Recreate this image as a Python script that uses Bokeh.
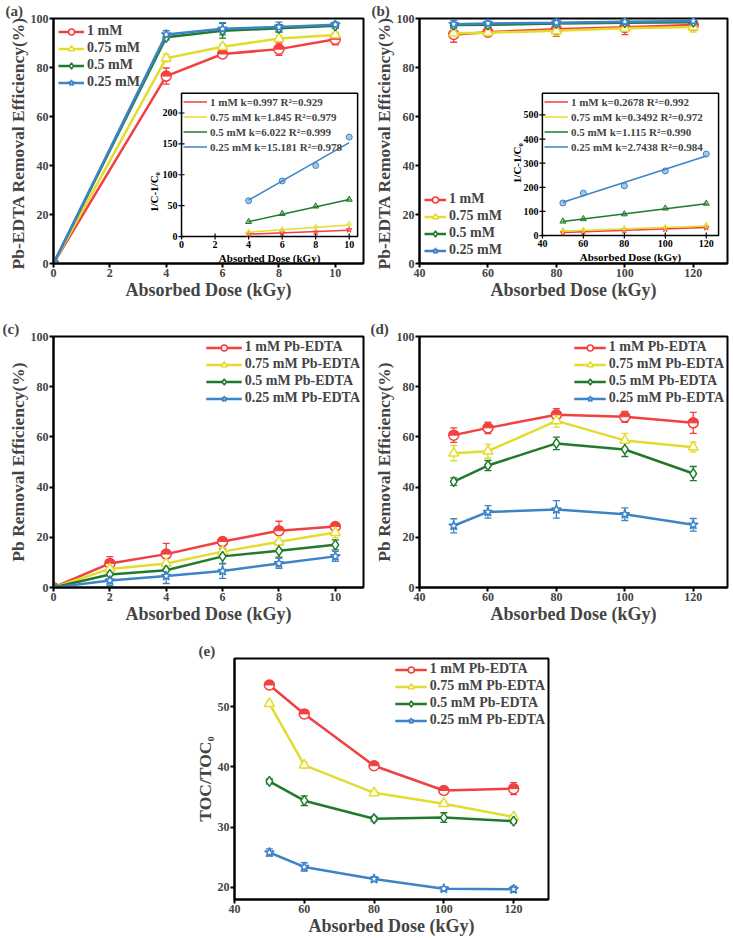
import math
from bokeh.plotting import figure
from bokeh.models import (Range1d, Legend, LegendItem, Title, Whisker, TeeHead,
                          ColumnDataSource, FixedTicker, Spacer)
from bokeh.layouts import column, row
from bokeh.embed import file_html
from bokeh.resources import INLINE
from bokeh.core.properties import value

FONT = "Liberation Serif"
RED, YEL, GRN, BLU = "#F23F3F", "#E3DC2E", "#217A2B", "#3D83C8"
COLORS = [RED, YEL, GRN, BLU]
CONC = ["1 mM", "0.75 mM", "0.5 mM", "0.25 mM"]
CONC_PB = ["1 mM Pb-EDTA", "0.75 mM Pb-EDTA", "0.5 mM Pb-EDTA", "0.25 mM Pb-EDTA"]
MARKERS = ["circle", "triangle", "diamond", "star"]
INSET_MARKERS = ["star", "diamond", "triangle", "circle"]

# ---------------- data: panel (a) ----------------
a_dose = [0, 4, 6, 8, 10]
a_eff_1mM = [0, 76.5, 85.5, 87.5, 91.5]
a_eff_075mM = [0, 83.8, 88.5, 91.8, 93.3]
a_eff_05mM = [0, 92.3, 95.0, 96.0, 97.0]
a_eff_025mM = [0, 93.5, 95.8, 96.5, 97.5]
a_err_1mM = [0.5, 3.3, 1.7, 2.5, 2.3]
a_err_075mM = [0.5, 1.5, 1.0, 1.2, 1.0]
a_err_05mM = [0.5, 1.0, 3.0, 1.5, 1.0]
a_err_025mM = [0.5, 1.5, 2.5, 2.0, 1.0]

a_in_dose = [4, 6, 8, 10]
a_in_1mM = [4, 6, 7, 11]
a_in_075mM = [7, 11, 15, 20]
a_in_05mM = [24, 37, 49, 60]
a_in_025mM = [58, 90, 115, 161]
a_fit_dose = [4, 10]
a_fit_1mM = [4, 10]
a_fit_075mM = [7, 18.5]
a_fit_05mM = [24, 60]
a_fit_025mM = [59, 152]
a_fit_labels = ["1 mM k=0.997 R²=0.929", "0.75 mM k=1.845 R²=0.979",
                "0.5 mM k=6.022 R²=0.999", "0.25 mM k=15.181 R²=0.978"]

# ---------------- data: panel (b) ----------------
b_dose = [50, 60, 80, 100, 120]
b_eff_1mM = [93.5, 94.4, 95.6, 96.4, 97.3]
b_eff_075mM = [94.0, 94.2, 95.0, 96.0, 96.5]
b_eff_05mM = [97.3, 97.4, 98.0, 98.3, 98.5]
b_eff_025mM = [97.7, 98.0, 98.3, 98.7, 99.0]
b_err_1mM = [3.2, 1.5, 2.9, 3.0, 2.0]
b_err_075mM = [2.0, 1.0, 2.0, 1.5, 2.0]
b_err_05mM = [1.0, 1.0, 1.0, 1.0, 1.0]
b_err_025mM = [1.5, 1.5, 1.5, 1.5, 1.5]

b_in_1mM = [12, 15, 21, 26, 33]
b_in_075mM = [21, 23, 29, 34, 43]
b_in_05mM = [59, 69, 89, 113, 133]
b_in_025mM = [135, 176, 206, 268, 338]
b_fit_dose = [50, 120]
b_fit_1mM = [13, 33]
b_fit_075mM = [19, 40]
b_fit_05mM = [58, 132]
b_fit_025mM = [138, 330]
b_fit_labels = ["1 mM k=0.2678 R²=0.992", "0.75 mM k=0.3492 R²=0.972",
                "0.5 mM k=1.115 R²=0.990", "0.25 mM k=2.7438 R²=0.984"]

# ---------------- data: panel (c) ----------------
c_dose = [0, 2, 4, 6, 8, 10]
c_eff_1mM = [0, 9.6, 13.3, 18.3, 22.6, 24.3]
c_eff_075mM = [0, 7.4, 9.6, 14.3, 18.2, 21.9]
c_eff_05mM = [0, 5.2, 6.9, 12.4, 14.6, 17.0]
c_eff_025mM = [0, 2.8, 4.6, 6.6, 9.6, 12.4]
c_err_1mM = [0.5, 2.7, 4.3, 1.2, 3.8, 1.0]
c_err_075mM = [0.5, 1.5, 2.0, 1.5, 2.5, 2.0]
c_err_05mM = [0.5, 2.0, 2.5, 3.0, 2.5, 2.0]
c_err_025mM = [0.5, 2.0, 3.0, 3.0, 2.0, 2.0]

# ---------------- data: panel (d) ----------------
d_dose = [50, 60, 80, 100, 120]
d_eff_1mM = [60.7, 63.6, 68.8, 68.0, 65.6]
d_eff_075mM = [53.5, 54.3, 66.4, 58.6, 55.9]
d_eff_05mM = [42.2, 48.6, 57.4, 55.0, 45.4]
d_eff_025mM = [24.6, 30.1, 31.1, 29.2, 25.0]
d_err_1mM = [2.9, 2.3, 2.5, 2.2, 4.2]
d_err_075mM = [3.0, 2.8, 2.5, 2.8, 2.0]
d_err_05mM = [1.5, 2.0, 2.5, 2.8, 2.8]
d_err_025mM = [2.8, 2.5, 3.5, 2.5, 2.5]

# ---------------- data: panel (e) ----------------
e_dose = [50, 60, 80, 100, 120]
e_toc_1mM = [53.6, 48.8, 40.2, 36.1, 36.4]
e_toc_075mM = [50.5, 40.3, 35.7, 33.9, 31.7]
e_toc_05mM = [37.6, 34.4, 31.4, 31.6, 31.0]
e_toc_025mM = [25.8, 23.4, 21.4, 19.8, 19.7]
e_err_1mM = [0.6, 0.6, 0.4, 0.4, 1.0]
e_err_075mM = [0.4, 0.5, 0.4, 0.4, 0.4]
e_err_05mM = [0.4, 0.8, 0.4, 0.8, 0.3]
e_err_025mM = [0.6, 0.7, 0.4, 0.3, 0.5]

X_LABEL = "Absorbed Dose (kGy)"


def make_fig(w, h, bl, br, bt, bb, xr, yr, xt, yt, ylabel):
    p = figure(width=w, height=h, x_range=Range1d(*xr), y_range=Range1d(*yr),
               output_backend="svg", toolbar_location=None, title=None,
               min_border_left=bl, min_border_right=br,
               min_border_top=bt, min_border_bottom=bb)
    p.outline_line_color = "black"
    p.outline_line_width = 2
    p.grid.visible = False
    p.xaxis.ticker = FixedTicker(ticks=xt)
    p.yaxis.ticker = FixedTicker(ticks=yt)
    for ax in (p.xaxis[0], p.yaxis[0]):
        ax.axis_line_width = 2
        ax.major_tick_line_width = 2
        ax.major_tick_out = 4
        ax.major_tick_in = 0
        ax.minor_tick_out = 0
        ax.minor_tick_in = 0
        ax.major_label_text_font = FONT
        ax.major_label_text_font_style = "bold"
        ax.major_label_text_font_size = "12px"
        ax.axis_label_text_font = FONT
        ax.axis_label_text_font_style = "bold"
        ax.major_label_standoff = 1
        ax.axis_label_standoff = 0
    p.xaxis.axis_label_text_font_size = "18px"
    p.yaxis.axis_label_text_font_size = "17.5px"
    p.xaxis.axis_label = X_LABEL
    p.yaxis.axis_label = ylabel
    return p


def draw_series(p, x, ys, errs, labels, loc, glyph_w, margin=4):
    items = []
    for y, e, c, m, lab in zip(ys, errs, COLORS, MARKERS, labels):
        src = ColumnDataSource(dict(x=x, y=y, lo=[a - b for a, b in zip(y, e)],
                                    hi=[a + b for a, b in zip(y, e)]))
        ln = p.line("x", "y", source=src, line_color=c, line_width=2.5)
        p.add_layout(Whisker(source=src, base="x", upper="hi", lower="lo",
                             line_color=c, line_width=1.3,
                             upper_head=TeeHead(size=7, line_color=c, line_width=1.3),
                             lower_head=TeeHead(size=7, line_color=c, line_width=1.3)))
        sc = p.scatter("x", "y", source=src, marker=m, size=10, fill_color="white",
                       line_color=c, line_width=1.5)
        if m == "circle":
            p.wedge("x", "y", source=src, radius=4.5, radius_units="screen",
                    start_angle=0, end_angle=math.pi, fill_color=c, line_color=c)
        items.append(LegendItem(label=lab, renderers=[ln, sc]))
    lg = Legend(items=items, location=loc, label_text_font=FONT,
                label_text_font_style="bold", label_text_font_size="14px",
                glyph_width=glyph_w, glyph_height=15, label_height=15, spacing=1,
                padding=1, margin=margin, border_line_alpha=0,
                background_fill_alpha=0, label_standoff=3)
    p.add_layout(lg)


def add_inset(p, frame_w, frame_h, fx0, fx1, fy0, fy1, ixr, iyr, xt, yt,
              xd, ys, fit_x, fits, fit_labels, ylab_y, ylab_dx):
    sx = (ixr[1] - ixr[0]) / (fx1 - fx0)
    s0 = ixr[0] - fx0 * sx
    sy = (iyr[1] - iyr[0]) / (fy1 - fy0)
    t0 = iyr[0] - fy0 * sy
    p.extra_x_ranges["ix"] = Range1d(s0, s0 + sx)
    p.extra_y_ranges["iy"] = Range1d(t0, t0 + sy)
    kw = dict(x_range_name="ix", y_range_name="iy")
    p.quad(left=[ixr[0]], right=[ixr[1]], bottom=[iyr[0]], top=[iyr[1]],
           fill_color="white", line_color="black", line_width=1.5, **kw)
    p.scatter(x=xt, y=[iyr[0]] * len(xt), marker="dash", angle=math.pi / 2, size=6,
              line_color="black", line_width=1.2, **kw)
    p.scatter(x=[ixr[0]] * len(yt), y=yt, marker="dash", size=6,
              line_color="black", line_width=1.2, **kw)
    tf = dict(text_font=value(FONT), text_font_style="bold", text_color="black")
    p.text(x=xt, y=[iyr[0]] * len(xt), text=[str(t) for t in xt], y_offset=4,
           text_align="center", text_baseline="top", text_font_size="10px", **tf, **kw)
    p.text(x=[ixr[0]] * len(yt), y=yt, text=[str(t) for t in yt], x_offset=-4,
           text_align="right", text_baseline="middle", text_font_size="10px", **tf, **kw)
    p.text(x=[(ixr[0] + ixr[1]) / 2], y=[iyr[0]], text=[X_LABEL], y_offset=15,
           text_align="center", text_baseline="top", text_font_size="11px", **tf, **kw)
    p.text(x=[ixr[0]], y=[ylab_y], text=["1/C-1/C₀"], x_offset=-ylab_dx, angle=math.pi / 2,
           text_align="center", text_baseline="middle", text_font_size="11px", **tf, **kw)
    items = []
    for y, f, c, m, lab in zip(ys, fits, COLORS, INSET_MARKERS, fit_labels):
        ln = p.line(fit_x, f, line_color=c, line_width=1.5, **kw)
        p.scatter(xd, y, marker=m, size=6, fill_color=c, fill_alpha=0.45,
                  line_color=c, line_width=1, **kw)
        items.append(LegendItem(label=lab, renderers=[ln]))
    lh = 13
    leg_h = 4 * lh + 3 * 2
    lx = fx0 * frame_w + 2
    ly = fy1 * frame_h - 3 - leg_h
    lg = Legend(items=items, location=(lx, ly), label_text_font=FONT,
                label_text_font_style="bold", label_text_font_size="11px",
                glyph_width=24, glyph_height=lh, label_height=lh, spacing=2,
                padding=0, margin=0, border_line_alpha=0, background_fill_alpha=0,
                label_standoff=3)
    p.add_layout(lg)


def panel_label(p, text, dx):
    p.add_layout(Title(text=text, align="left", offset=dx, standoff=0, text_font=FONT,
                       text_font_style="bold", text_font_size="15px"), "above")


# ---------------- row 1: panels (a) and (b) ----------------
A_XR, A_YR = (0, 11), (0, 100)
B_XR = (40, 130)
R1_H, R1_TOP, R1_BOT = 302, 18, 38
F1_H = R1_H - R1_TOP - R1_BOT
FA_W, FB_W = 310, 308

pa = make_fig(366, R1_H, 53, 3, R1_TOP, R1_BOT, A_XR, A_YR, [0, 2, 4, 6, 8, 10],
              [0, 20, 40, 60, 80, 100], "Pb-EDTA  Removal Efficiency(%)")
draw_series(pa, a_dose, [a_eff_1mM, a_eff_075mM, a_eff_05mM, a_eff_025mM],
            [a_err_1mM, a_err_075mM, a_err_05mM, a_err_025mM], CONC, "top_left", 26)
add_inset(pa, FA_W, F1_H, 0.413, 0.981, 0.110, 0.695, (0, 10.5), (0, 232),
          [0, 2, 4, 6, 8, 10], [0, 50, 100, 150, 200], a_in_dose,
          [a_in_1mM, a_in_075mM, a_in_05mM, a_in_025mM], a_fit_dose,
          [a_fit_1mM, a_fit_075mM, a_fit_05mM, a_fit_025mM], a_fit_labels, 72, 28)
panel_label(pa, "(a)", -48)

pb = make_fig(367, R1_H, 53, 6, R1_TOP, R1_BOT, B_XR, A_YR, [40, 60, 80, 100, 120],
              [0, 20, 40, 60, 80, 100], "Pb-EDTA  Removal Efficiency(%)")
draw_series(pb, b_dose, [b_eff_1mM, b_eff_075mM, b_eff_05mM, b_eff_025mM],
            [b_err_1mM, b_err_075mM, b_err_05mM, b_err_025mM], CONC, "bottom_left", 22)
add_inset(pb, FB_W, F1_H, 0.399, 0.971, 0.114, 0.695, (40, 126), (0, 590),
          [40, 60, 80, 100, 120], [0, 100, 200, 300, 400, 500], b_dose,
          [b_in_1mM, b_in_075mM, b_in_05mM, b_in_025mM], b_fit_dose,
          [b_fit_1mM, b_fit_075mM, b_fit_05mM, b_fit_025mM], b_fit_labels, 300, 25)
panel_label(pb, "(b)", -48)

# ---------------- row 2: panels (c) and (d) ----------------
pc = make_fig(366, 324, 53, 3, 34, 38, A_XR, A_YR, [0, 2, 4, 6, 8, 10],
              [0, 20, 40, 60, 80, 100], "Pb Removal Efficiency(%)")
draw_series(pc, c_dose, [c_eff_1mM, c_eff_075mM, c_eff_05mM, c_eff_025mM],
            [c_err_1mM, c_err_075mM, c_err_05mM, c_err_025mM], CONC_PB, "top_right", 36, 2)
panel_label(pc, "(c)", -51)

pd_ = make_fig(367, 324, 53, 6, 34, 38, B_XR, A_YR, [40, 60, 80, 100, 120],
               [0, 20, 40, 60, 80, 100], "Pb Removal Efficiency(%)")
draw_series(pd_, d_dose, [d_eff_1mM, d_eff_075mM, d_eff_05mM, d_eff_025mM],
            [d_err_1mM, d_err_075mM, d_err_05mM, d_err_025mM], CONC_PB, "top_right", 32, 2)
panel_label(pd_, "(d)", -49)

# ---------------- row 3: panel (e) ----------------
E_YR = (18, 58)
pe = make_fig(374, 312, 50, 10, 32, 39, B_XR, E_YR, [40, 60, 80, 100, 120],
              [20, 30, 40, 50], "TOC/TOC₀")
draw_series(pe, e_dose, [e_toc_1mM, e_toc_075mM, e_toc_05mM, e_toc_025mM],
            [e_err_1mM, e_err_075mM, e_err_05mM, e_err_025mM], CONC_PB, "top_right", 32, 2)
panel_label(pe, "(e)", -36)

layout = column(row(pa, pb), row(pc, pd_), row(Spacer(width=184, height=312), pe))
open("out.html", "w").write(file_html(layout, INLINE))
